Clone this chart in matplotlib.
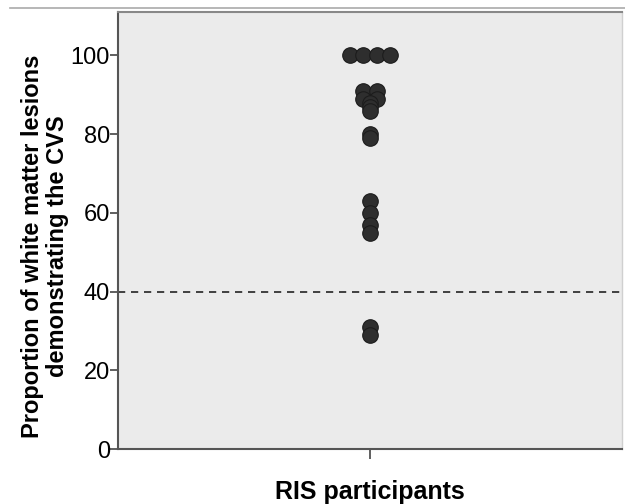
import matplotlib
matplotlib.use("Agg")
import matplotlib.pyplot as plt
from matplotlib.lines import Line2D
from collections import Counter

plt.rcParams['font.family'] = ['Liberation Sans', 'DejaVu Sans']

# data (proportion of WM lesions with CVS, per RIS participant)
values = [100, 100, 100, 100, 91, 91, 89, 89, 88, 87, 86, 80, 79,
          63, 60, 57, 55, 31, 29]
threshold = 40
group_label = "RIS participants"
y_ticks = [0, 20, 40, 60, 80, 100]

fig = plt.figure(figsize=(6.25, 5.04), dpi=100)
ax = fig.add_axes([0.189, 0.109, 0.806, 0.867])
ax.set_facecolor('#ebebeb')

# simple dot-plot stacking: identical values spread side by side
spacing = 0.054
counts = Counter(values)
seen = Counter()
xs = []
for v in values:
    n = counts[v]
    i = seen[v]
    seen[v] += 1
    xs.append((i - (n - 1) / 2) * spacing)

ax.scatter(xs, values, s=125, c='#2e2e2e', edgecolors='#1c1c1c',
           linewidths=0.8, zorder=3)
ax.axhline(threshold, color='#333333', linestyle=(0, (4, 3.2)), linewidth=1.3, zorder=2)

ax.set_xlim(-1, 1)
ax.set_ylim(0, 111)
ax.set_yticks(y_ticks)
ax.set_xticks([0])
ax.set_xticklabels([''])
ax.tick_params(axis='y', labelsize=17, length=6, width=1.2, color='#444444', pad=0)
ax.tick_params(axis='x', length=7, width=1.2, color='#444444')

for s in ['left', 'bottom']:
    ax.spines[s].set_color('#555555')
    ax.spines[s].set_linewidth(1.5)
ax.spines['top'].set_color('#888888')
ax.spines['top'].set_linewidth(1.5)
ax.spines['right'].set_color('#d0d0d0')
ax.spines['right'].set_linewidth(1.0)

ax.set_xlabel(group_label, fontsize=18, fontweight='bold')
ax.xaxis.set_label_coords(0.5, -0.07)
ax.xaxis.label.set_va('top')
ax.set_ylabel("Proportion of white matter lesions\ndemonstrating the CVS",
              fontsize=17, fontweight='bold', linespacing=1.15)
ax.yaxis.set_label_coords(-0.097, 0.465)

fig.add_artist(Line2D([0.016, 1.0], [0.984, 0.984], transform=fig.transFigure,
                      color='#aaaaaa', linewidth=1.2))

fig.savefig("out.png", dpi=100)
